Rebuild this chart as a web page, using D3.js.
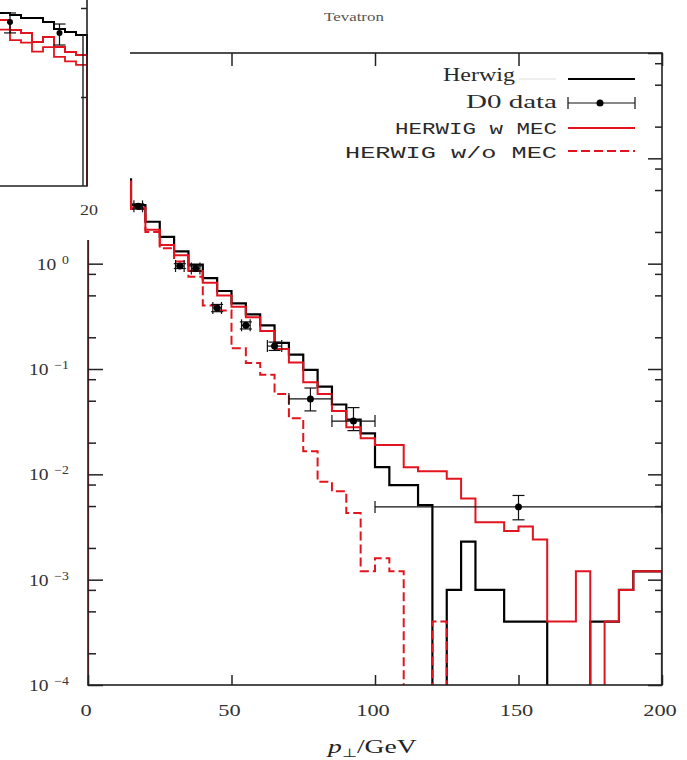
<!DOCTYPE html>
<html>
<head>
<meta charset="utf-8">
<script src="https://cdn.jsdelivr.net/npm/d3@7"></script>
<style>
  body { margin: 0; background: #fff; }
  svg { display: block; }
</style>
</head>
<body>
<svg id="chart" width="687" height="760"></svg>
<script>
// bin edges (GeV), 5 GeV bins
const binEdges = [0, 5, 10, 15, 20, 25, 30, 35, 40, 45, 50, 55, 60, 65, 70, 75, 80, 85, 90, 95, 100,
  105, 110, 115, 120, 125, 130, 135, 140, 145, 150, 155, 160, 165, 170, 175, 180, 185, 190, 195, 200];

// Herwig (black)
const herwig = [30, 15, 6.3, 3.6, 2.5, 1.8, 1.31, 0.98, 0.73, 0.55, 0.42, 0.33, 0.26, 0.177, 0.137, 0.098,
  0.068, 0.046, 0.033, 0.0245, 0.0117, 0.0079, 0.0079, 0.0051, 0, 0.0008, 0.0023, 0.0008, 0.0008, 0.0004,
  0.0004, 0.0004, 0, 0, 0, 0.0004, 0.0004, 0.0008, 0.0012, 0.0012];

// HERWIG w MEC (red solid)
const withMEC = [30, 15, 6.0, 3.4, 2.1, 1.5, 1.2, 0.85, 0.66, 0.50, 0.39, 0.31, 0.23, 0.155, 0.115, 0.075,
  0.058, 0.040, 0.028, 0.022, 0.019, 0.019, 0.0117, 0.0107, 0.0107, 0.0091, 0.0059, 0.0035, 0.0035, 0.0029,
  0.0032, 0.0024, 0.0004, 0.0004, 0.0012, 0, 0.0004, 0.0008, 0.0012, 0.0012];

// HERWIG w/o MEC (red dashed)
const withoutMEC = [30, 15, 6.0, 3.3, 2.0, 1.4, 1.05, 0.75, 0.40, 0.36, 0.157, 0.114, 0.088, 0.058, 0.034,
  0.0166, 0.0085, 0.0069, 0.0043, 0.0012, 0.0016, 0.0012, 0, 0, 0.0004, 0, 0, 0, 0, 0,
  0, 0, 0, 0, 0, 0, 0, 0, 0, 0];

// D0 data points
const d0X = [17.5, 32, 37.5, 45, 55, 65, 77.5, 92.5, 150];
const d0Y = [3.5, 0.95, 0.9, 0.38, 0.26, 0.165, 0.052, 0.032, 0.0049];
const d0XLo = [16, 30.5, 36, 43.5, 53.5, 62.5, 70, 85, 100];
const d0XHi = [19, 33.5, 39, 46.5, 56.5, 67.5, 85, 100, 200];
const d0YLo = [3.3, 0.9, 0.85, 0.35, 0.24, 0.15, 0.040, 0.026, 0.0037];
const d0YHi = [3.7, 1.0, 0.95, 0.41, 0.28, 0.18, 0.066, 0.043, 0.0063];

// ticks
const xTicks = [0, 50, 100, 150, 200];
const yMajor = [1e-4, 1e-3, 1e-2, 1e-1, 1, 10, 100];
const yMinor = [2e-4, 5e-4, 8e-4, 2e-3, 5e-3, 8e-3, 2e-2, 5e-2, 8e-2, 0.2, 0.5, 0.8, 2, 5, 8, 20, 50, 80];
const yLabelExp = ["\u22124", "\u22123", "\u22122", "\u22121", "0"];
const yLabelVal = [1e-4, 1e-3, 1e-2, 1e-1, 1];

// inset (partly visible, top left)
const insetEdges = [11, 12, 13, 14, 15, 16, 17, 18, 19, 20];
const insetBlack = [9.78, 9.72, 9.61, 9.44, 9.44, 9.21, 8.82, 8.65, 8.48];
const insetRed = [9.55, 9.33, 8.76, 8.6, 8.09, 8.37, 7.81, 7.53, 7.36];
const insetRedLow = [9.0, 8.78, 8.2, 8.05, 7.55, 7.8, 7.25, 7.0, 6.8];
const insetDataX = [13, 17.5];
const insetDataY = [9.21, 8.6];
const insetDataLo = [8.6, 7.92];
const insetDataHi = [9.72, 9.1];
const insetYTicks = [5, 10];

const RED = "#e2141f";
const svg = d3.select("#chart");

const x = d3.scaleLinear().domain([0, 200]).range([88, 662]);
const y = d3.scaleLog().domain([1e-4, 1e2]).range([685, 53]);
const yv = v => v > 0 ? y(v) : y.range()[0] + 1;

svg.append("clipPath").attr("id", "plotclip")
  .append("rect")
  .attr("x", x(0)).attr("y", y(1e2))
  .attr("width", x(200) - x(0)).attr("height", y(1e-4) - y(1e2));

// histogram outline points
const histPoints = (edges, vals) => {
  const pts = [[edges[0], 0]];
  vals.forEach((v, i) => { pts.push([edges[i], v]); pts.push([edges[i + 1], v]); });
  pts.push([edges[edges.length - 1], 0]);
  return pts;
};
const histLine = d3.line().x(d => x(d[0])).y(d => yv(d[1]));

const plot = svg.append("g").attr("clip-path", "url(#plotclip)");

plot.selectAll("path.hist")
  .data([
    { vals: herwig, color: "#000", dash: null, w: 2.2 },
    { vals: withoutMEC, color: RED, dash: "9,4", w: 2 },
    { vals: withMEC, color: RED, dash: null, w: 2 }
  ])
  .join("path")
  .attr("class", "hist")
  .attr("d", d => histLine(histPoints(binEdges, d.vals)))
  .attr("fill", "none")
  .attr("stroke", d => d.color)
  .attr("stroke-width", d => d.w)
  .attr("stroke-dasharray", d => d.dash);

// D0 data with error bars
const d0 = d0X.map((v, i) => ({ x: v, y: d0Y[i], xlo: d0XLo[i], xhi: d0XHi[i], ylo: d0YLo[i], yhi: d0YHi[i] }));
const pts = plot.selectAll("g.d0").data(d0).join("g").attr("class", "d0")
  .attr("stroke", "#111").attr("stroke-width", 1.2);
pts.append("line").attr("x1", d => x(d.xlo)).attr("x2", d => x(d.xhi)).attr("y1", d => y(d.y)).attr("y2", d => y(d.y));
pts.append("line").attr("x1", d => x(d.xlo)).attr("x2", d => x(d.xlo)).attr("y1", d => y(d.y) - 6).attr("y2", d => y(d.y) + 6);
pts.append("line").attr("x1", d => x(d.xhi)).attr("x2", d => x(d.xhi)).attr("y1", d => y(d.y) - 6).attr("y2", d => y(d.y) + 6);
pts.append("line").attr("x1", d => x(d.x)).attr("x2", d => x(d.x)).attr("y1", d => y(d.ylo)).attr("y2", d => y(d.yhi));
pts.append("line").attr("x1", d => x(d.x) - 6).attr("x2", d => x(d.x) + 6).attr("y1", d => y(d.ylo)).attr("y2", d => y(d.ylo));
pts.append("line").attr("x1", d => x(d.x) - 6).attr("x2", d => x(d.x) + 6).attr("y1", d => y(d.yhi)).attr("y2", d => y(d.yhi));
pts.append("circle").attr("cx", d => x(d.x)).attr("cy", d => y(d.y)).attr("r", 3.5).attr("fill", "#000").attr("stroke", "none");

// frame and inward ticks
const axisStyle = g => {
  g.select(".domain").remove();
  g.selectAll("line").attr("stroke", "#222").attr("stroke-width", 1.5);
};
svg.append("g").attr("transform", `translate(${x(0)},0)`)
  .call(d3.axisLeft(y).tickValues(yMajor).tickSize(-15).tickFormat("")).call(axisStyle);
svg.append("g").attr("transform", `translate(${x(0)},0)`)
  .call(d3.axisLeft(y).tickValues(yMinor).tickSize(-8).tickFormat("")).call(axisStyle);
svg.append("g").attr("transform", `translate(${x(200)},0)`)
  .call(d3.axisRight(y).tickValues(yMajor).tickSize(-14).tickFormat("")).call(axisStyle);
svg.append("g").attr("transform", `translate(${x(200)},0)`)
  .call(d3.axisRight(y).tickValues(yMinor).tickSize(-7).tickFormat("")).call(axisStyle);
svg.append("g").attr("transform", `translate(0,${y(1e-4)})`)
  .call(d3.axisBottom(x).tickValues(xTicks).tickSize(-10).tickFormat("")).call(axisStyle);
svg.append("g").attr("transform", `translate(0,${y(1e2)})`)
  .call(d3.axisTop(x).tickValues(xTicks).tickSize(-13).tickFormat("")).call(axisStyle);

svg.append("rect")
  .attr("x", x(0)).attr("y", y(1e2))
  .attr("width", x(200) - x(0)).attr("height", y(1e-4) - y(1e2))
  .attr("fill", "none").attr("stroke", "#222").attr("stroke-width", 1.6);

// tick labels (the picture is a bit stretched sideways)
svg.selectAll("text.xlab").data(xTicks).join("text")
  .attr("class", "xlab")
  .attr("transform", d => `translate(${x(d) - 2},716) scale(1.4,1)`)
  .attr("text-anchor", "middle")
  .style("font-family", "'Liberation Serif', serif").style("font-size", "16px").attr("fill", "#333")
  .text(d => d);

const ylab = svg.selectAll("text.ylab").data(yLabelVal).join("text")
  .attr("class", "ylab")
  .attr("transform", d => `translate(69,${y(d) + 6}) scale(1.15,1)`)
  .attr("text-anchor", "end")
  .style("font-family", "'Liberation Serif', serif").style("font-size", "17px").attr("fill", "#333");
ylab.append("tspan").text("10");
ylab.append("tspan").attr("dx", 5).attr("dy", -6).style("font-size", "12px").text((d, i) => yLabelExp[i]);

// axis title
const xt = svg.append("text")
  .attr("transform", "translate(328,753) scale(1.45,1)")
  .style("font-family", "'Liberation Serif', serif").style("font-size", "19px").attr("fill", "#222");
xt.append("tspan").style("font-style", "italic").text("p");
xt.append("tspan").attr("dy", 4).style("font-size", "12px").text("\u22a5");
xt.append("tspan").attr("dy", -4).text("/GeV");

svg.append("text")
  .attr("transform", "translate(354,21) scale(1.3,1)")
  .attr("text-anchor", "middle")
  .style("font-family", "'Liberation Serif', serif").style("font-size", "13px").attr("fill", "#555")
  .text("Tevatron");

// legend
const legend = [
  { label: "Herwig", x0: 443, x1: 515, base: 81, mono: false, line: 79, kind: "black" },
  { label: "D0 data", x0: 466, x1: 557, base: 108, mono: false, line: 103, kind: "data" },
  { label: "HERWIG w MEC", x0: 395, x1: 557, base: 134, mono: true, line: 128, kind: "red" },
  { label: "HERWIG w/o MEC", x0: 345, x1: 557, base: 158, mono: true, line: 151, kind: "dash" }
];
const lg = svg.selectAll("g.legend").data(legend).join("g").attr("class", "legend");
lg.append("text")
  .attr("x", d => d.x0).attr("y", d => d.base)
  .attr("textLength", d => d.x1 - d.x0).attr("lengthAdjust", "spacingAndGlyphs")
  .style("font-family", d => d.mono ? "'Liberation Mono', monospace" : "'Liberation Serif', serif")
  .style("font-size", d => d.mono ? "17px" : "18px")
  .attr("fill", "#2a2a2a")
  .text(d => d.label);
lg.filter(d => d.kind !== "data").append("line")
  .attr("x1", 568).attr("x2", 635).attr("y1", d => d.line).attr("y2", d => d.line)
  .attr("stroke", d => d.kind === "black" ? "#000" : RED)
  .attr("stroke-width", 2.2)
  .attr("stroke-dasharray", d => d.kind === "dash" ? "9,4" : null);
svg.append("line").attr("x1", 519).attr("x2", 556).attr("y1", 79).attr("y2", 79)
  .attr("stroke", "#ddd").attr("stroke-width", 1);
const ld = lg.filter(d => d.kind === "data");
ld.append("line").attr("x1", 568).attr("x2", 635).attr("y1", d => d.line).attr("y2", d => d.line).attr("stroke", "#111").attr("stroke-width", 1.2);
ld.append("line").attr("x1", 568).attr("x2", 568).attr("y1", d => d.line - 6).attr("y2", d => d.line + 6).attr("stroke", "#111").attr("stroke-width", 1.2);
ld.append("line").attr("x1", 635).attr("x2", 635).attr("y1", d => d.line - 6).attr("y2", d => d.line + 6).attr("stroke", "#111").attr("stroke-width", 1.2);
ld.append("circle").attr("cx", 600).attr("cy", d => d.line).attr("r", 3.5).attr("fill", "#000");

// the inset plot sits on top of the upper left corner
svg.append("rect").attr("x", 0).attr("y", 0).attr("width", 130).attr("height", 185).attr("fill", "#fff");
svg.append("rect").attr("x", 0).attr("y", 185).attr("width", 112).attr("height", 55).attr("fill", "#fff");

const xi = d3.scaleLinear().domain([0, 20]).range([-133, 87]);
const yi = d3.scaleLinear().domain([0, 10]).range([186, 8]);
const insetLine = d3.line().x(d => xi(d[0])).y(d => yi(d[1]));
const inset = svg.append("g");

inset.selectAll("path.ihist")
  .data([
    { vals: insetBlack, color: "#000", w: 2 },
    { vals: insetRedLow, color: RED, w: 1.8 },
    { vals: insetRed, color: RED, w: 2 }
  ])
  .join("path")
  .attr("class", "ihist")
  .attr("d", d => insetLine(histPoints(insetEdges, d.vals)))
  .attr("fill", "none")
  .attr("stroke", d => d.color)
  .attr("stroke-width", d => d.w);

const ip = inset.selectAll("g.ipt").data(insetDataX).join("g").attr("class", "ipt")
  .attr("stroke", "#111").attr("stroke-width", 1.2);
ip.append("line").attr("x1", d => xi(d)).attr("x2", d => xi(d)).attr("y1", (d, i) => yi(insetDataLo[i])).attr("y2", (d, i) => yi(insetDataHi[i]));
ip.append("line").attr("x1", d => xi(d) - 6).attr("x2", d => xi(d) + 6).attr("y1", (d, i) => yi(insetDataHi[i])).attr("y2", (d, i) => yi(insetDataHi[i]));
ip.append("line").attr("x1", d => xi(d) - 6).attr("x2", d => xi(d) + 6).attr("y1", (d, i) => yi(insetDataLo[i])).attr("y2", (d, i) => yi(insetDataLo[i]));
ip.append("circle").attr("cx", d => xi(d)).attr("cy", (d, i) => yi(insetDataY[i])).attr("r", 3).attr("fill", "#000").attr("stroke", "none");

svg.append("g").attr("transform", `translate(${xi(20)},0)`)
  .call(d3.axisRight(yi).tickValues(insetYTicks).tickSize(-6).tickFormat("")).call(axisStyle);
inset.append("path")
  .attr("d", `M0,${yi(0)}H${xi(20)}V0`)
  .attr("fill", "none").attr("stroke", "#222").attr("stroke-width", 1.6);
inset.append("line")
  .attr("x1", xi(20) - 4).attr("x2", xi(20) - 4).attr("y1", yi(insetBlack[insetBlack.length - 1])).attr("y2", yi(0))
  .attr("stroke", "#222").attr("stroke-width", 1.4);
svg.append("text")
  .attr("transform", `translate(${xi(20) + 2},215) scale(1.2,1)`)
  .attr("text-anchor", "middle")
  .style("font-family", "'Liberation Serif', serif").style("font-size", "15px").attr("fill", "#333")
  .text("20");
</script>
</body>
</html>
